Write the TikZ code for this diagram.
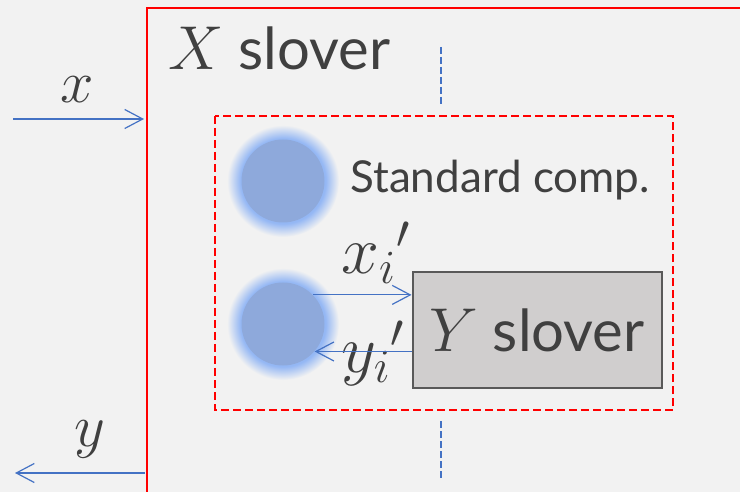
\RequirePackage{fix-cm}
\documentclass[tikz,border=0pt]{standalone}
\usepackage{fontspec}
\setmainfont{Lato}
\usepackage{tikz}
\usetikzlibrary{arrows.meta, positioning}
\definecolor{bgcol}{HTML}{F2F2F2}
\definecolor{framered}{HTML}{FF0000}
\definecolor{linkblue}{HTML}{4472C4}
\definecolor{compblue}{HTML}{8EA9DB}
\definecolor{glowblue}{HTML}{94B7F4}
\definecolor{solvergray}{HTML}{D0CECE}
\definecolor{edgegray}{HTML}{595959}
\definecolor{textgray}{HTML}{404040}
\pgfdeclareradialshading{compglow}{\pgfpoint{0bp}{0bp}}{color(0bp)=(glowblue); color(19bp)=(glowblue); color(25bp)=(bgcol); color(50bp)=(bgcol)}
\newcommand{\mvar}[1]{{\fontsize{31}{37}\selectfont$#1$}}

\begin{document}
\begin{tikzpicture}[
  x=0.5pt, y=-0.5pt,
  txt/.style={text=textgray, inner sep=0pt, font=\fontsize{29}{34}\selectfont},
  smalltxt/.style={text=textgray, inner sep=0pt, font=\fontsize{22}{26}\selectfont},
  mathtxt/.style={text=textgray, inner sep=0pt, font=\fontsize{30}{36}\selectfont},
  primetxt/.style={text=textgray, inner sep=0pt, font=\fontsize{34}{40}\selectfont},
  comp/.style={circle, fill=compblue, minimum size=41.5pt, inner sep=0pt},
  solver/.style={rectangle, draw=edgegray, line width=1pt, fill=solvergray, minimum width=124.5pt, minimum height=57.5pt, text=textgray, font=\fontsize{29}{34}\selectfont},
  outerframe/.style={draw=framered, line width=1.4pt},
  innerframe/.style={draw=framered, line width=1.1pt, dash pattern=on 4pt off 2pt},
  divider/.style={draw=linkblue, line width=1.2pt, dash pattern=on 3.5pt off 1.5pt},
  arrow/.style={-{Straight Barb[length=9pt, width=9.5pt]}, draw=linkblue, line width=0.6pt}
]
  \useasboundingbox (0,0) rectangle (740,492);
  \fill[bgcol] (0,0) rectangle (740,492);

  \draw[outerframe] (147,492) |- (740,8);
  \draw[innerframe] (215,116) rectangle (673,410);
  \draw[divider] (441,47) -- (441,104);
  \draw[divider] (441,421) -- (441,478);

  \node[txt, anchor=base west] (xsolver) at (168,70) {\mvar{X} slover};
  \node[smalltxt, anchor=base west] (stdcomp) at (350,192) {Standard comp.};

  \coordinate (p1) at (283,181);
  \coordinate (p2) at (283,324);
  \shade[shading=compglow] (p1) circle (28pt);
  \shade[shading=compglow] (p2) circle (28pt);
  \node[comp] (c1) at (p1) {};
  \node[comp] (c2) at (p2) {};

  \node[solver] (ysolver) at (537,330) {\mvar{Y} slover};

  \coordinate (xin) at (13,119);
  \coordinate (xport) at (144,119);
  \coordinate (yport) at (145,473);
  \coordinate (yout) at (15,473);
  \node[mathtxt, anchor=base] (xlab) at (77,103) {$x$};
  \node[mathtxt, anchor=base] (ylab) at (90,446) {$y$};
  \node[primetxt, anchor=base west] (xilab) at (341,273) {${x_i}'$};
  \node[primetxt, anchor=base west] (yilab) at (341,372) {${y_i}'$};

  \draw[arrow] (xin) -- (xport);
  \draw[arrow] (yport) -- (yout);
  \draw[arrow] (c2.44) -- (c2.44 -| ysolver.west);
  \draw[arrow] (c2.-41 -| ysolver.west) -- (c2.-41);
\end{tikzpicture}
\end{document}
